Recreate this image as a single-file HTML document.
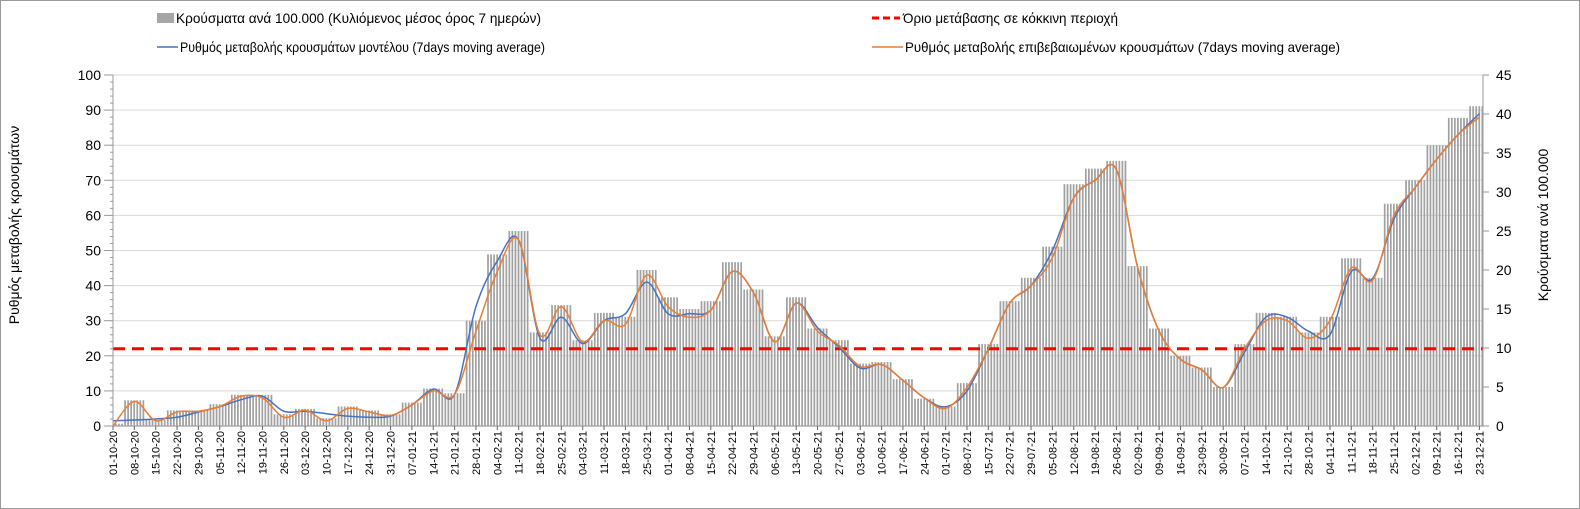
<!DOCTYPE html>
<html><head><meta charset="utf-8"><style>
body{margin:0;background:#fff;}
svg{display:block;font-family:"Liberation Sans",Arial,sans-serif;}
</style></head><body>
<svg id="chart" width="1580" height="509" viewBox="0 0 1580 509" xmlns="http://www.w3.org/2000/svg">
<defs>
<pattern id="stripes" patternUnits="userSpaceOnUse" width="3.05" height="10" x="112">
<rect x="0" y="0" width="1.7" height="10" fill="#a0a0a0"/>
</pattern>
</defs>
<rect x="0.5" y="0.5" width="1579" height="508" fill="#fff" stroke="#9a9a9a"/>
<g id="grid"></g>
<g id="bars"></g>
<line id="threshold" stroke="#ff0000" stroke-width="3" stroke-dasharray="12,7"/>
<path id="blueLine" fill="none" stroke="#4472c4" stroke-width="1.5"/>
<path id="orangeLine" fill="none" stroke="#ed7d31" stroke-width="1.5"/>
<g id="axes"></g>
<text transform="translate(19,225) rotate(-90)" text-anchor="middle" font-size="14" fill="#000">Ρυθμός μεταβολής κρουσμάτων</text>
<text transform="translate(1548,225) rotate(-90)" text-anchor="middle" font-size="14" fill="#000">Κρούσματα ανά 100.000</text>
<g font-size="14" fill="#000">
<rect x="157" y="13" width="17" height="10" fill="#a6a6a6"/>
<text x="176" y="23" textLength="365" lengthAdjust="spacingAndGlyphs">Κρούσματα ανά 100.000 (Κυλιόμενος μέσος όρος 7 ημερών)</text>
<line x1="872" y1="18" x2="900" y2="18" stroke="#ff0000" stroke-width="3" stroke-dasharray="7,4"/>
<text x="903" y="23" textLength="215" lengthAdjust="spacingAndGlyphs">Όριο μετάβασης σε κόκκινη περιοχή</text>
<line x1="157" y1="47" x2="178" y2="47" stroke="#4472c4" stroke-width="1.5"/>
<text x="180" y="52" textLength="365" lengthAdjust="spacingAndGlyphs">Ρυθμός μεταβολής κρουσμάτων μοντέλου (7days moving average)</text>
<line x1="872" y1="47" x2="903" y2="47" stroke="#ed7d31" stroke-width="1.5"/>
<text x="905" y="52" textLength="435" lengthAdjust="spacingAndGlyphs">Ρυθμός μεταβολής επιβεβαιωμένων κρουσμάτων (7days moving average)</text>
</g>
</svg>
<script>
const weekLabels=["01-10-20","08-10-20","15-10-20","22-10-20","29-10-20","05-11-20","12-11-20","19-11-20","26-11-20","03-12-20","10-12-20","17-12-20","24-12-20","31-12-20","07-01-21","14-01-21","21-01-21","28-01-21","04-02-21","11-02-21","18-02-21","25-02-21","04-03-21","11-03-21","18-03-21","25-03-21","01-04-21","08-04-21","15-04-21","22-04-21","29-04-21","06-05-21","13-05-21","20-05-21","27-05-21","03-06-21","10-06-21","17-06-21","24-06-21","01-07-21","08-07-21","15-07-21","22-07-21","29-07-21","05-08-21","12-08-21","19-08-21","26-08-21","02-09-21","09-09-21","16-09-21","23-09-21","30-09-21","07-10-21","14-10-21","21-10-21","28-10-21","04-11-21","11-11-21","18-11-21","25-11-21","02-12-21","09-12-21","16-12-21","23-12-21"];
const casesPer100k=[0.3,3.3,0.8,2,2,2.8,4,4,1.5,2.2,1,2.5,2,1.5,3,4.8,4.2,13.5,22,25,12,15.5,11,14.5,14,20,16.5,15,16,21,17.5,11.5,16.5,12.5,11,8,8.2,6,3.5,2.5,5.5,10.5,16,19,23,31,33,34,20.5,12.5,9,7.5,5,10.5,14.5,14,12,14,21.5,19,28.5,31.5,36,39.5,41];
const confirmedRate=[0,7,1.5,4,4.2,5.5,8.5,8,2.5,4.5,1.5,5,4,3,6,10,9,27,44,53,26,34,24,30,29,43,34,31,33,44,38,24,35,27,23,17,17.5,13,8,5,11,22,35,40,48,65,70,73,45,27,19,16,11,22,30,30,25,30,45,41.5,60,68,76,83,88];
const modelRate=[1.5,1.7,2,2.5,4,5.5,7.5,8.5,4.2,4.2,3.5,2.8,2.5,2.8,6,10.5,9,34,47,53,25,31,23.5,30,32,41,32,32,33,44,38,24,35,28,22.5,16.5,17.5,13,8,5.5,10,22,35,40,50,65,70,73,45,27,19,16,11,21,31,31,27,26,44,42,59,68,76,83,89];
const threshold=22;
const leftTicks=[0,10,20,30,40,50,60,70,80,90,100];
const rightTicks=[0,5,10,15,20,25,30,35,40,45];

const X0=113, DX=3.05*7, YB=426, YT=75;
const xW=i=>X0+i*DX;
const yL=v=>YB-(v/100)*(YB-YT);
const yR=v=>YB-(v/45)*(YB-YT);
const NS="http://www.w3.org/2000/svg";
function mk(tag,parent){const e=document.createElementNS(NS,tag);parent.appendChild(e);return e;}
const grid=document.getElementById('grid'),axes=document.getElementById('axes'),bars=document.getElementById('bars');

leftTicks.forEach(t=>{
  const l=mk('line',grid);
  
  
  l.setAttribute('x1',110);l.setAttribute('x2',1483);l.setAttribute('y1',yL(t));l.setAttribute('y2',yL(t));
  l.setAttribute('stroke',t===0?'#888':'#d9d9d9');l.setAttribute('stroke-width',1);
  const tx=mk('text',axes);
  
  
  tx.setAttribute('x',101);tx.setAttribute('y',yL(t)+5);tx.setAttribute('text-anchor','end');tx.setAttribute('font-size','14');
  tx.textContent=t;
});
for(let v=0;v<=100;v+=2){
  const m=mk('line',axes);
  
  
  m.setAttribute('x1',v%10===0?104:110);m.setAttribute('x2',113);m.setAttribute('y1',yL(v));m.setAttribute('y2',yL(v));m.setAttribute('stroke','#999');
}
rightTicks.forEach(t=>{
  const tx=mk('text',axes);
  
  
  tx.setAttribute('x',1496);tx.setAttribute('y',yR(t)+5);tx.setAttribute('font-size','14');
  tx.textContent=t;
  const m=mk('line',axes);
  
  
  m.setAttribute('x1',1483);m.setAttribute('x2',1489);m.setAttribute('y1',yR(t));m.setAttribute('y2',yR(t));m.setAttribute('stroke','#999');
});
const ax=mk('line',axes);


ax.setAttribute('x1',113);ax.setAttribute('x2',113);ax.setAttribute('y1',YT);ax.setAttribute('y2',YB);ax.setAttribute('stroke','#999');
const axr=mk('line',axes);


axr.setAttribute('x1',1483);axr.setAttribute('x2',1483);axr.setAttribute('y1',YT);axr.setAttribute('y2',YB);axr.setAttribute('stroke','#999');

weekLabels.forEach((lab,i)=>{
  const x=xW(i);
  const t=mk('line',axes);
  
  
  t.setAttribute('x1',x);t.setAttribute('x2',x);t.setAttribute('y1',YB);t.setAttribute('y2',YB+4);t.setAttribute('stroke','#666');
  const tx=mk('text',axes);
  
  
  tx.setAttribute('transform',`translate(${x+4},${YB+5}) rotate(-90)`);
  tx.setAttribute('text-anchor','end');tx.setAttribute('font-size','11');
  tx.textContent=lab;
});

casesPer100k.forEach((v,i)=>{
  const r=mk('rect',bars);
  
  
  const x1=Math.max(113,xW(i)-DX/2), x2=Math.min(1483,xW(i)+DX/2);
  r.setAttribute('x',x1);r.setAttribute('width',x2-x1);
  r.setAttribute('y',yR(v));r.setAttribute('height',YB-yR(v));
  r.setAttribute('fill','url(#stripes)');
});

const th=document.getElementById('threshold');
th.setAttribute('x1',113);th.setAttribute('x2',1483);th.setAttribute('y1',yL(threshold));th.setAttribute('y2',yL(threshold));

function smooth(vals){
  const p=vals.map((v,i)=>[xW(i),yL(v)]);
  let d=`M${p[0][0]},${p[0][1]}`;
  for(let i=0;i<p.length-1;i++){
    const a=p[Math.max(0,i-1)],b=p[i],c=p[i+1],e=p[Math.min(p.length-1,i+2)];
    const c1=[b[0]+(c[0]-a[0])/6,b[1]+(c[1]-a[1])/6],c2=[c[0]-(e[0]-b[0])/6,c[1]-(e[1]-b[1])/6];
    d+=` C${c1[0]},${c1[1]} ${c2[0]},${c2[1]} ${c[0]},${c[1]}`;
  }
  return d;
}
document.getElementById('blueLine').setAttribute('d',smooth(modelRate));
document.getElementById('orangeLine').setAttribute('d',smooth(confirmedRate));
</script>
</body></html>
